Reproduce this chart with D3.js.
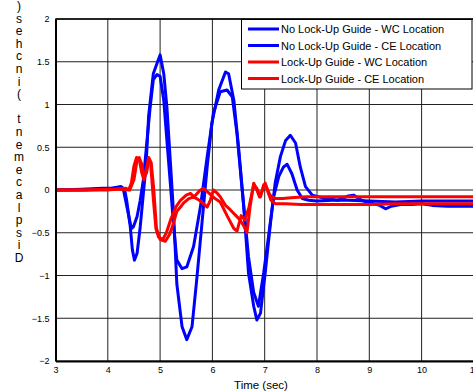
<!DOCTYPE html>
<html>
<head>
<meta charset="utf-8">
<script src="https://cdn.jsdelivr.net/npm/d3@7"></script>
<style>
  body { margin: 0; background: #fff; }
  svg { display: block; font-family: 'Liberation Sans', Arial, sans-serif; }
</style>
</head>
<body>
<div class="chart"></div>
<script>
// values, [time (sec), displacement (in)]
const noGuideWC = [
  [3.0, 0], [3.5, 0.0], [3.8, 0.01], [4.0, 0.01], [4.15, 0.03], [4.25, 0.04], [4.32, 0.01],
  [4.36, -0.12], [4.43, -0.43], [4.47, -0.7], [4.51, -0.82], [4.56, -0.74], [4.62, -0.43],
  [4.68, -0.04], [4.73, 0.27], [4.78, 0.86], [4.87, 1.36], [4.94, 1.48], [5.0, 1.58],
  [5.07, 1.36], [5.13, 0.97], [5.19, 0.39], [5.26, -0.3], [5.32, -1.1], [5.42, -1.6],
  [5.51, -1.75], [5.61, -1.6], [5.7, -1.05], [5.8, -0.39], [5.9, 0.27], [5.99, 0.78],
  [6.12, 1.17], [6.25, 1.38], [6.31, 1.36], [6.41, 1.05], [6.5, 0.5], [6.6, -0.2],
  [6.69, -0.97], [6.79, -1.36], [6.85, -1.52], [6.92, -1.44], [7.01, -0.97], [7.11, -0.39],
  [7.2, 0.08], [7.3, 0.39], [7.4, 0.58], [7.49, 0.64], [7.59, 0.55], [7.68, 0.27],
  [7.78, 0.04], [7.91, -0.06], [8.16, -0.1], [8.4, -0.12], [8.6, -0.07], [8.7, -0.06],
  [8.85, -0.12], [9.0, -0.15], [9.2, -0.18], [9.31, -0.22], [9.42, -0.19], [9.6, -0.17],
  [9.8, -0.17], [10.0, -0.16], [10.2, -0.18], [10.5, -0.19], [11.0, -0.19]
];
const noGuideCE = [
  [3.0, 0], [3.5, 0.01], [3.9, 0.02], [4.1, 0.02], [4.2, 0.03], [4.3, 0.0],
  [4.39, -0.27], [4.45, -0.45], [4.49, -0.43], [4.56, -0.31], [4.62, -0.12], [4.68, 0.12],
  [4.75, 0.58], [4.81, 0.97], [4.87, 1.29], [4.94, 1.35], [5.0, 1.33], [5.07, 1.05],
  [5.13, 0.58], [5.19, 0.12], [5.26, -0.43], [5.32, -0.82], [5.42, -0.92], [5.51, -0.9],
  [5.64, -0.66], [5.77, -0.2], [5.9, 0.39], [6.02, 0.9], [6.15, 1.15], [6.28, 1.17],
  [6.38, 1.09], [6.47, 0.66], [6.57, 0.0], [6.69, -0.78], [6.79, -1.2], [6.88, -1.36],
  [6.98, -0.97], [7.08, -0.51], [7.17, -0.08], [7.27, 0.16], [7.36, 0.27], [7.43, 0.3],
  [7.52, 0.19], [7.62, 0.0], [7.72, -0.1], [7.84, -0.12], [8.0, -0.13], [8.3, -0.12],
  [8.6, -0.12], [9.0, -0.13], [9.5, -0.14], [10.0, -0.13], [10.5, -0.13], [11.0, -0.13]
];
const guideWC = [
  [3.0, 0], [3.6, 0.0], [4.0, 0.01], [4.3, 0.01], [4.4, 0.0], [4.45, 0.08], [4.5, 0.28],
  [4.55, 0.38], [4.6, 0.36], [4.65, 0.2], [4.69, 0.12], [4.74, 0.25], [4.78, 0.38],
  [4.82, 0.3], [4.87, -0.1], [4.92, -0.45], [4.97, -0.55], [5.05, -0.58], [5.12, -0.5],
  [5.2, -0.35], [5.3, -0.2], [5.39, -0.12], [5.5, -0.06], [5.58, -0.04], [5.65, -0.08],
  [5.77, 0.0], [5.83, 0.02], [5.9, -0.02], [5.96, -0.05], [6.05, -0.1], [6.15, -0.14],
  [6.28, -0.3], [6.41, -0.45], [6.47, -0.48], [6.55, -0.3], [6.62, -0.35], [6.7, -0.2],
  [6.79, 0.06], [6.85, 0.02], [6.92, -0.08], [6.98, 0.06], [7.03, 0.04], [7.1, -0.06],
  [7.2, -0.1], [7.35, -0.1], [7.5, -0.09], [7.8, -0.08], [8.5, -0.08], [9.5, -0.08],
  [10.5, -0.08], [11.0, -0.08]
];
const guideCE = [
  [3.0, 0], [3.6, 0.0], [4.0, 0.0], [4.35, 0.02], [4.42, 0.0], [4.5, 0.12], [4.56, 0.35],
  [4.6, 0.38], [4.65, 0.3], [4.7, 0.15], [4.74, 0.2], [4.79, 0.37], [4.83, 0.32],
  [4.88, 0.0], [4.93, -0.45], [5.0, -0.58], [5.1, -0.6], [5.18, -0.52], [5.25, -0.4],
  [5.32, -0.25], [5.39, -0.2], [5.45, -0.15], [5.55, -0.1], [5.64, -0.08], [5.75, -0.12],
  [5.83, -0.16], [5.9, -0.2], [5.96, -0.12], [6.02, 0.0], [6.08, -0.03], [6.15, -0.08],
  [6.25, -0.18], [6.34, -0.23], [6.45, -0.3], [6.53, -0.35], [6.6, -0.42], [6.66, -0.5],
  [6.72, -0.2], [6.79, 0.08], [6.85, 0.0], [6.9, -0.08], [6.96, 0.0], [7.01, 0.08],
  [7.06, -0.02], [7.12, -0.12], [7.2, -0.16], [7.4, -0.16], [7.7, -0.17], [8.0, -0.17],
  [9.0, -0.17], [9.5, -0.16], [10.0, -0.16], [11.0, -0.16]
];

const seriesNames = [
  'No Lock-Up Guide - WC Location',
  'No Lock-Up Guide - CE Location',
  'Lock-Up Guide - WC Location',
  'Lock-Up Guide - CE Location'
];
const seriesColors = ['#0000ff', '#0000ff', '#ff0000', '#ff0000'];
const xTicks = [3, 4, 5, 6, 7, 8, 9, 10, 11];
const yTicks = [-2, -1.5, -1, -0.5, 0, 0.5, 1, 1.5, 2];
const yLabel = 'Displacement (inches)';

const width = 473, height = 391;
const plot = { left: 55.5, right: 473.9, top: 19, bottom: 361 };

const svg = d3.select('.chart').append('svg')
  .attr('width', width)
  .attr('height', height);

const x = d3.scaleLinear().domain([3, 11]).range([plot.left, plot.right]);
const y = d3.scaleLinear().domain([-2, 2]).range([plot.bottom, plot.top]);

// grid
svg.append('g')
  .selectAll('line')
  .data(xTicks)
  .join('line')
  .attr('x1', d => x(d)).attr('x2', d => x(d))
  .attr('y1', plot.top).attr('y2', plot.bottom)
  .attr('stroke', '#222').attr('stroke-width', 1);

svg.append('g')
  .selectAll('line')
  .data(yTicks)
  .join('line')
  .attr('x1', plot.left).attr('x2', plot.right)
  .attr('y1', d => y(d)).attr('y2', d => y(d))
  .attr('stroke', '#222').attr('stroke-width', 1);

// curves
svg.append('clipPath').attr('id', 'clip')
  .append('rect')
  .attr('x', plot.left).attr('y', plot.top)
  .attr('width', plot.right - plot.left).attr('height', plot.bottom - plot.top);

const line = d3.line().x(d => x(d[0])).y(d => y(d[1]));
const allSeries = [noGuideWC, noGuideCE, guideWC, guideCE];

svg.append('g')
  .attr('clip-path', 'url(#clip)')
  .selectAll('path')
  .data(allSeries)
  .join('path')
  .attr('d', line)
  .attr('fill', 'none')
  .attr('stroke', (d, i) => seriesColors[i])
  .attr('stroke-width', 3)
  .attr('stroke-linejoin', 'round');

// axes
const xAxis = svg.append('g')
  .attr('transform', `translate(0,${plot.bottom})`)
  .call(d3.axisBottom(x).tickValues(xTicks).tickSize(0).tickPadding(6));
const yAxis = svg.append('g')
  .attr('transform', `translate(${plot.left},0)`)
  .call(d3.axisLeft(y).tickValues(yTicks).tickSize(0).tickPadding(6).tickFormat(d3.format('')));

[xAxis, yAxis].forEach(a => {
  a.select('.domain').attr('stroke', '#000').attr('stroke-width', 2);
  a.selectAll('text')
    .attr('font-family', "'Liberation Sans', Arial, sans-serif")
    .attr('font-size', 9)
    .attr('fill', '#000');
});

// top border
svg.append('line')
  .attr('x1', plot.left).attr('x2', plot.right)
  .attr('y1', plot.top).attr('y2', plot.top)
  .attr('stroke', '#000').attr('stroke-width', 1.5);

// x label
svg.append('text')
  .attr('x', 261)
  .attr('y', 389)
  .attr('text-anchor', 'middle')
  .attr('font-size', 11.5)
  .text('Time (sec)');

// y label: upright letters stacked bottom to top
const yl = svg.append('text')
  .attr('font-size', 12)
  .attr('text-anchor', 'middle');
yLabel.split('').forEach((c, i) => {
  yl.append('tspan')
    .attr('x', 19)
    .attr('y', 262 - 12.6 * i)
    .text(c);
});

// legend
const lg = svg.append('g');
lg.append('rect')
  .attr('x', 241.5).attr('y', 19.5)
  .attr('width', 230.5).attr('height', 69.5)
  .attr('fill', '#fff').attr('stroke', '#000').attr('stroke-width', 1);

seriesNames.forEach((name, i) => {
  const cy = 29 + i * 16.5;
  lg.append('line')
    .attr('x1', 248).attr('x2', 279)
    .attr('y1', cy).attr('y2', cy)
    .attr('stroke', seriesColors[i]).attr('stroke-width', 3);
  lg.append('text')
    .attr('x', 281)
    .attr('y', cy + 4)
    .attr('font-size', 11)
    .text(name);
});
</script>
</body>
</html>
